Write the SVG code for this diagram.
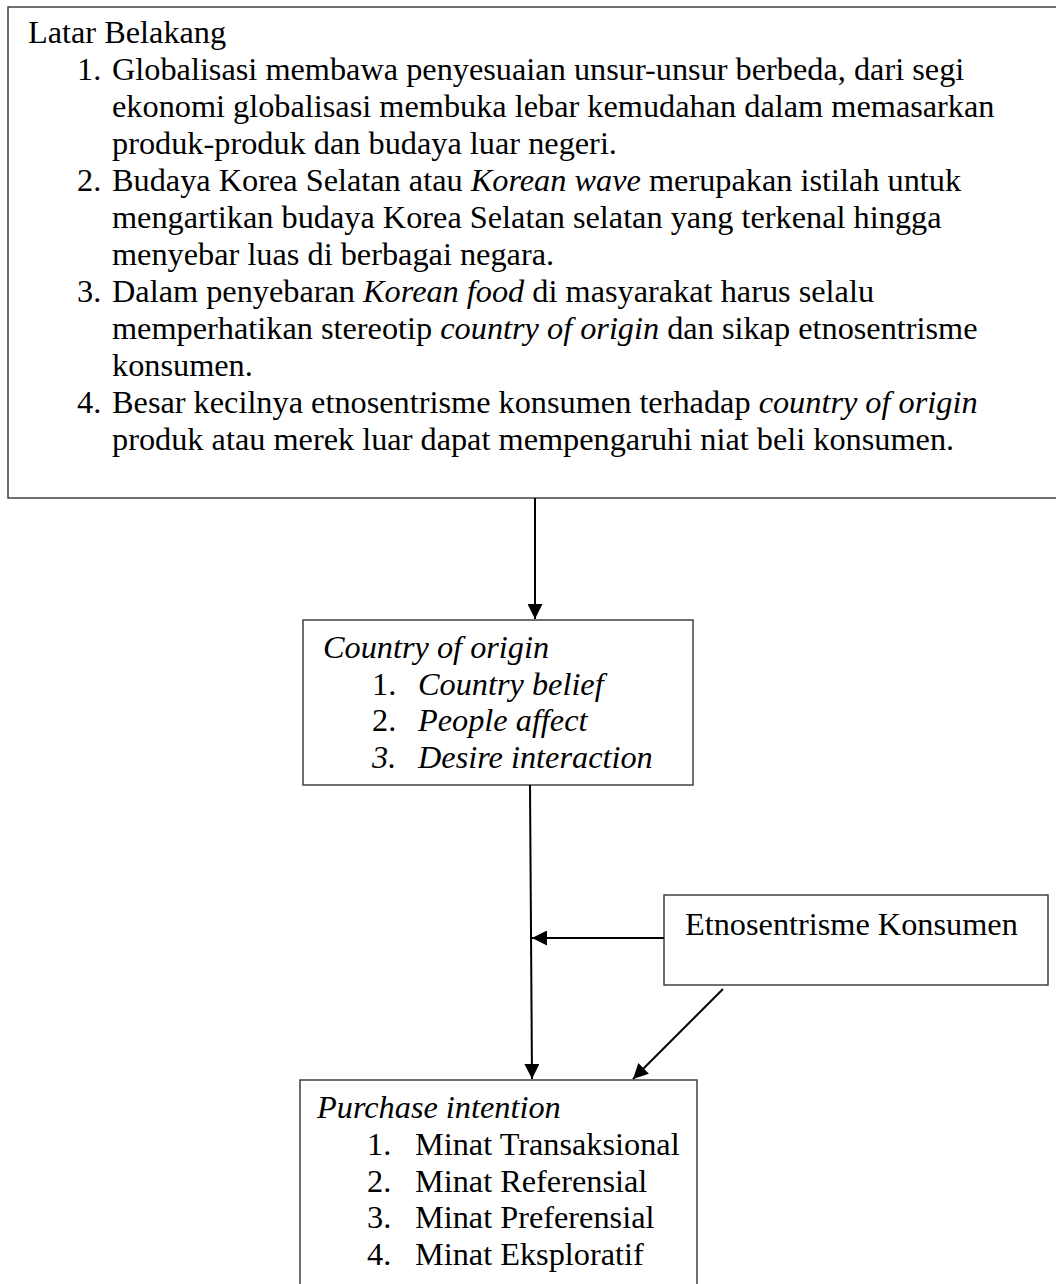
<svg xmlns="http://www.w3.org/2000/svg" width="1056" height="1284" viewBox="0 0 1056 1284">
<style>
.box{fill:#fff;stroke:#404040;stroke-width:1.5}
.t{font-family:"Liberation Serif","Times New Roman",serif;font-size:32.3px;fill:#000}
.i{font-style:italic}
.ln{stroke:#000;stroke-width:2;fill:none}
</style>
<defs>
<marker id="ah" viewBox="0 0 10 10" refX="10" refY="5" markerWidth="16" markerHeight="15" markerUnits="userSpaceOnUse" orient="auto">
<path d="M0,0 L10,5 L0,10 Z" fill="#000"/>
</marker>
</defs>
<rect width="1056" height="1284" fill="#fff"/>
<g id="latar-belakang">
<rect class="box" x="8" y="7" width="1060" height="491"/>
<text class="t" x="28" y="43">Latar Belakang</text>
<text class="t" x="77" y="80">1.</text>
<text class="t" x="112" y="80">Globalisasi membawa penyesuaian unsur-unsur berbeda, dari segi</text>
<text class="t" x="112" y="117">ekonomi globalisasi membuka lebar kemudahan dalam memasarkan</text>
<text class="t" x="112" y="154">produk-produk dan budaya luar negeri.</text>
<text class="t" x="77" y="191">2.</text>
<text class="t" x="112" y="191">Budaya Korea Selatan atau <tspan class="i">Korean wave</tspan> merupakan istilah untuk</text>
<text class="t" x="112" y="228">mengartikan budaya Korea Selatan selatan yang terkenal hingga</text>
<text class="t" x="112" y="265">menyebar luas di berbagai negara.</text>
<text class="t" x="77" y="302">3.</text>
<text class="t" x="112" y="302">Dalam penyebaran <tspan class="i">Korean food</tspan> di masyarakat harus selalu</text>
<text class="t" x="112" y="339">memperhatikan stereotip <tspan class="i">country of origin</tspan> dan sikap etnosentrisme</text>
<text class="t" x="112" y="376">konsumen.</text>
<text class="t" x="77" y="413">4.</text>
<text class="t" x="112" y="413">Besar kecilnya etnosentrisme konsumen terhadap <tspan class="i">country of origin</tspan></text>
<text class="t" x="112" y="450">produk atau merek luar dapat mempengaruhi niat beli konsumen.</text>
</g>
<g id="country-of-origin">
<rect class="box" x="303" y="620" width="390" height="165"/>
<text class="t i" x="323" y="658">Country of origin</text>
<text class="t" x="372" y="695">1.</text>
<text class="t i" x="418" y="695">Country belief</text>
<text class="t" x="372" y="731">2.</text>
<text class="t i" x="418" y="731">People affect</text>
<text class="t i" x="372" y="768">3.</text>
<text class="t i" x="418" y="768">Desire interaction</text>
</g>
<g id="etnosentrisme">
<rect class="box" x="664" y="895" width="384" height="90"/>
<text class="t" x="685" y="935">Etnosentrisme Konsumen</text>
</g>
<g id="purchase-intention">
<rect class="box" x="300" y="1080" width="397" height="220"/>
<text class="t i" x="317" y="1118">Purchase intention</text>
<text class="t" x="367" y="1155">1.</text>
<text class="t" x="415" y="1155">Minat Transaksional</text>
<text class="t" x="367" y="1192">2.</text>
<text class="t" x="415" y="1192">Minat Referensial</text>
<text class="t" x="367" y="1228">3.</text>
<text class="t" x="415" y="1228">Minat Preferensial</text>
<text class="t" x="367" y="1265">4.</text>
<text class="t" x="415" y="1265">Minat Eksploratif</text>
</g>
<g id="connectors">
<line class="ln" x1="535" y1="498" x2="535" y2="619" marker-end="url(#ah)"/>
<line class="ln" x1="530" y1="785" x2="532" y2="1079" marker-end="url(#ah)"/>
<line class="ln" x1="664" y1="938" x2="532" y2="938" marker-end="url(#ah)"/>
<line class="ln" x1="723" y1="989" x2="633" y2="1079" marker-end="url(#ah)"/>
</g>
</svg>
